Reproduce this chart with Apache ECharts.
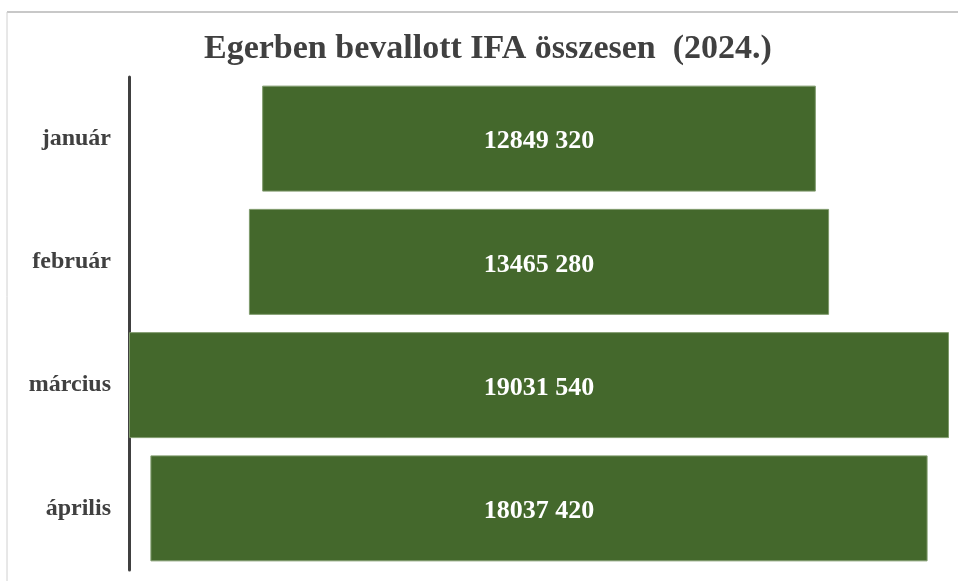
<!DOCTYPE html>
<html>
<head>
<meta charset="utf-8">
<script src="https://cdn.jsdelivr.net/npm/echarts@6/dist/echarts.min.js"></script>
<style>
  html, body { margin: 0; padding: 0; background: #fff; }
  #main { width: 958px; height: 581px; }
</style>
</head>
<body>
<div id="main"></div>
<script>
// havi adatok
var months = ['január', 'február', 'március', 'április']
var ifaValues = [12849320, 13465280, 19031540, 18037420]

var maxValue = Math.max.apply(null, ifaValues)
// láthatatlan eltolás, hogy a sávok középre kerüljenek
var offsets = ifaValues.map(function (v) { return (maxValue - v) / 2 })

function fmt(v) {
  var rest = String(v % 1000)
  while (rest.length < 3) rest = '0' + rest
  return Math.floor(v / 1000) + ' ' + rest
}

var chart = echarts.init(document.getElementById('main'))
chart.setOption({
  animation: false,
  title: {
    text: 'Egerben bevallott IFA összesen  (2024.)',
    left: 199,
    top: 27,
    textStyle: {
      fontFamily: 'Liberation Serif',
      fontWeight: 'bold',
      fontSize: 34,
      color: '#404040'
    }
  },
  graphic: [
    { type: 'line', shape: { x1: 7, y1: 12, x2: 958, y2: 12 }, style: { stroke: '#c8c8c8', lineWidth: 2 } },
    { type: 'line', shape: { x1: 7, y1: 12, x2: 7, y2: 581 }, style: { stroke: '#d0d0d0', lineWidth: 1 } }
  ],
  grid: {
    left: 129,
    right: 9,
    top: 77,
    bottom: 11
  },
  xAxis: {
    type: 'value',
    min: 0,
    max: maxValue,
    show: false
  },
  yAxis: {
    type: 'category',
    data: months,
    inverse: true,
    axisTick: { show: false },
    axisLine: { lineStyle: { color: '#404040', width: 3 } },
    axisLabel: {
      margin: 18,
      fontFamily: 'Liberation Serif',
      fontWeight: 'bold',
      fontSize: 24,
      color: '#404040',
      padding: [4, 0, 0, 0]
    }
  },
  series: [{
    type: 'bar',
    stack: 'total',
    data: offsets,
    itemStyle: { color: 'transparent' },
    silent: true
  }, {
    type: 'bar',
    stack: 'total',
    data: ifaValues,
    barCategoryGap: '14%',
    itemStyle: {
      color: '#44682c',
      borderColor: '#7f9a6c',
      borderWidth: 1
    },
    label: {
      show: true,
      position: 'inside',
      offset: [0, 3],
      formatter: function (p) { return fmt(p.value) },
      fontFamily: 'Liberation Serif',
      fontWeight: 'bold',
      fontSize: 26,
      color: '#ffffff'
    }
  }]
})
</script>
</body>
</html>
